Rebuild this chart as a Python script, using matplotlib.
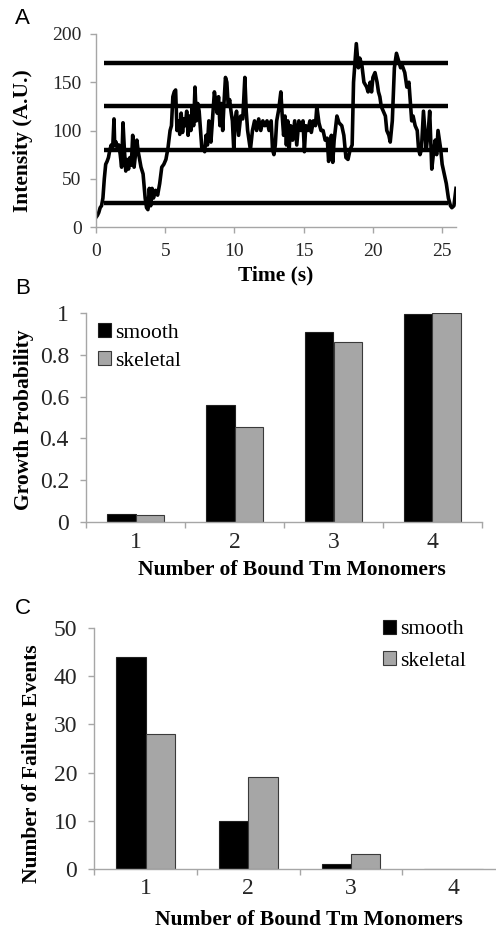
import numpy as np
import matplotlib
matplotlib.use("Agg")
from matplotlib import pyplot as plt

# panel A: single-molecule intensity trace (time s, intensity)
trace = [
    (0.0, 10), (0.1, 12), (0.2, 15), (0.3, 20), (0.4, 22), (0.5, 30), (0.6, 50), (0.7, 65),
    (0.8, 68), (0.9, 72), (1.0, 80), (1.1, 85), (1.2, 80), (1.3, 112), (1.35, 85), (1.45, 88),
    (1.55, 80), (1.65, 85), (1.75, 75), (1.85, 62), (1.95, 108), (2.05, 80), (2.15, 58),
    (2.25, 70), (2.35, 60), (2.45, 72), (2.55, 64), (2.65, 95), (2.75, 62), (2.85, 75),
    (2.95, 90), (3.05, 78), (3.15, 70), (3.25, 62), (3.4, 55), (3.55, 30), (3.65, 20),
    (3.75, 18), (3.85, 40), (3.95, 22), (4.05, 40), (4.15, 30), (4.3, 38), (4.45, 33),
    (4.6, 45), (4.75, 62), (4.9, 65), (5.05, 70), (5.2, 82), (5.35, 100), (5.45, 105),
    (5.55, 135), (5.65, 140), (5.75, 142), (5.85, 100), (5.95, 110), (6.05, 96), (6.15, 118),
    (6.25, 98), (6.35, 112), (6.45, 105), (6.55, 120), (6.65, 95), (6.75, 115), (6.85, 100),
    (6.95, 125), (7.05, 105), (7.15, 145), (7.25, 110), (7.35, 128), (7.45, 120), (7.55, 100),
    (7.65, 80), (7.75, 82), (7.85, 78), (7.95, 95), (8.05, 85), (8.15, 110), (8.3, 88),
    (8.45, 120), (8.55, 140), (8.65, 130), (8.75, 118), (8.85, 135), (8.95, 105), (9.05, 128),
    (9.15, 100), (9.25, 130), (9.35, 155), (9.45, 150), (9.55, 125), (9.65, 132), (9.75, 120),
    (9.85, 110), (9.95, 80), (10.05, 112), (10.15, 120), (10.3, 95), (10.45, 115), (10.6, 112),
    (10.75, 155), (10.85, 120), (10.95, 100), (11.05, 90), (11.15, 80), (11.3, 100),
    (11.45, 110), (11.6, 100), (11.75, 112), (11.9, 100), (12.05, 110), (12.2, 105),
    (12.35, 110), (12.5, 100), (12.65, 110), (12.75, 80), (12.85, 75), (12.95, 85),
    (13.05, 110), (13.2, 122), (13.35, 140), (13.45, 115), (13.55, 95), (13.65, 115),
    (13.75, 85), (13.85, 110), (13.95, 80), (14.05, 105), (14.2, 90), (14.35, 110),
    (14.5, 85), (14.65, 110), (14.8, 100), (14.95, 110), (15.05, 78), (15.15, 105),
    (15.3, 100), (15.45, 110), (15.55, 98), (15.7, 110), (15.85, 105), (15.95, 125),
    (16.1, 108), (16.25, 100), (16.4, 100), (16.55, 90), (16.7, 92), (16.8, 68), (16.9, 80),
    (17.0, 95), (17.1, 67), (17.2, 90), (17.4, 115), (17.55, 108), (17.75, 105), (17.9, 95),
    (18.05, 72), (18.2, 70), (18.35, 80), (18.5, 85), (18.6, 150), (18.7, 170), (18.8, 190),
    (18.95, 165), (19.05, 175), (19.2, 168), (19.35, 150), (19.55, 145), (19.65, 140),
    (19.8, 150), (19.9, 140), (20.0, 155), (20.15, 160), (20.3, 150), (20.4, 140),
    (20.5, 135), (20.6, 125), (20.75, 120), (20.9, 115), (21.0, 100), (21.15, 95),
    (21.25, 88), (21.4, 110), (21.55, 165), (21.7, 180), (21.9, 170), (22.0, 165),
    (22.1, 168), (22.3, 160), (22.45, 145), (22.6, 150), (22.7, 130), (22.8, 110),
    (22.9, 115), (23.05, 105), (23.2, 100), (23.3, 80), (23.4, 75), (23.5, 80), (23.65, 120),
    (23.85, 80), (24.0, 100), (24.1, 120), (24.25, 60), (24.4, 80), (24.5, 90), (24.6, 75),
    (24.7, 100), (24.9, 80), (25.0, 65), (25.15, 55), (25.3, 45), (25.45, 30), (25.6, 22),
    (25.7, 20), (25.85, 22), (26.0, 40),
]
trace_t = [p[0] for p in trace]
trace_v = [p[1] for p in trace]
step_levels = [25, 80, 125, 170]
step_span = (0.6, 25.4)

# panels B and C
monomers = ["1", "2", "3", "4"]
growth_smooth = [0.04, 0.56, 0.91, 0.995]
growth_skeletal = [0.035, 0.455, 0.86, 1.0]
fail_smooth = [44, 10, 1, 0]
fail_skeletal = [28, 19, 3, 0]

plt.rcParams["font.family"] = ["Liberation Serif", "DejaVu Serif"]
axis_gray = "#a6a6a6"
tick_color = "#262626"
label_size = 15.5

fig = plt.figure(figsize=(4.96, 9.31), dpi=100)


def style_axes(ax, tick_size):
    for s in ["top", "right"]:
        ax.spines[s].set_visible(False)
    for s in ["left", "bottom"]:
        ax.spines[s].set_color(axis_gray)
        ax.spines[s].set_linewidth(1.0)
    ax.tick_params(axis="both", which="both", direction="out", colors=axis_gray,
                   labelcolor=tick_color, labelsize=tick_size, length=4.3, width=1.0)


def place_labels(ax, xlabel, ylabel, xpos, ypos):
    ax.set_xlabel(xlabel, fontsize=label_size, fontweight="bold", va="center", ha="center")
    ax.set_ylabel(ylabel, fontsize=label_size, fontweight="bold", va="center", ha="center")
    ax.xaxis.set_label_coords(*xpos)
    ax.yaxis.set_label_coords(*ypos)


# ---- A ----
axA = fig.add_axes([96 / 496, 1 - 227 / 931, 360 / 496, 193 / 931])
axA.plot(trace_t, trace_v, color="black", lw=2.6, solid_joinstyle="round")
axA.hlines(step_levels, step_span[0], step_span[1], color="black", lw=3.2)
axA.set_xlim(0, 26)
axA.set_ylim(0, 200)
axA.set_xticks(np.arange(0, 26, 5))
axA.set_yticks(np.arange(0, 201, 50))
style_axes(axA, 14)
axA.tick_params(axis="y", pad=6)
axA.tick_params(axis="x", pad=7)
place_labels(axA, "Time (s)", "Intensity (A.U.)", (0.5, -0.249), (-0.203, 0.446))


def bar_panel(ax, smooth, skeletal, ymax, ystep, fmt):
    x = np.arange(len(monomers))
    w = 0.285
    ax.bar(x - w / 2, smooth, w, color="black", edgecolor="#202020", lw=0.8, label="smooth")
    ax.bar(x + w / 2, skeletal, w, color="#a6a6a6", edgecolor="#3a3a3a", lw=0.8, label="skeletal")
    ax.set_xlim(-0.5, len(monomers) - 0.5)
    ax.set_ylim(0, ymax)
    yt = np.arange(0, ymax + ystep / 2, ystep)
    ax.set_yticks(yt)
    ax.set_yticklabels([fmt(v) for v in yt])
    style_axes(ax, 17)
    ax.set_xticks(np.arange(-0.5, len(monomers), 1.0))
    ax.set_xticklabels([])
    ax.set_xticks(x, minor=True)
    ax.set_xticklabels(monomers, minor=True)
    ax.tick_params(axis="x", which="minor", length=0, pad=7)
    ax.tick_params(axis="y", pad=8)


def fmt_prob(v):
    return "0" if v == 0 else ("1" if abs(v - 1) < 1e-9 else f"{v:.1f}")


legend_kw = dict(loc="upper left", frameon=False, fontsize=label_size, handlelength=0.6,
                 handleheight=0.6, handletextpad=0.2, borderpad=0, borderaxespad=0)

# ---- B ----
axB = fig.add_axes([86 / 496, 1 - 522 / 931, 396 / 496, 209 / 931])
bar_panel(axB, growth_smooth, growth_skeletal, 1.0, 0.2, fmt_prob)
place_labels(axB, "Number of Bound Tm Monomers", "Growth Probability",
             (0.52, -0.23), (-0.157, 0.49))
axB.legend(bbox_to_anchor=(0.03, 0.95), labelspacing=0.4, **legend_kw)

# ---- C ----
axC = fig.add_axes([94.3 / 496, 1 - 868.7 / 931, 410.7 / 496, 240.4 / 931])
bar_panel(axC, fail_smooth, fail_skeletal, 50, 10, lambda v: f"{int(v)}")
place_labels(axC, "Number of Bound Tm Monomers", "Number of Failure Events",
             (0.523, -0.213), (-0.152, 0.435))
axC.legend(bbox_to_anchor=(0.702, 1.035), labelspacing=0.55, **legend_kw)

# panel letters
for letter, ypix in [("A", 18), ("B", 289), ("C", 608)]:
    fig.text(15 / 496, 1 - ypix / 931, letter, fontsize=16, family="Liberation Sans",
             va="center", ha="left")

fig.savefig("out.png", dpi=100)
